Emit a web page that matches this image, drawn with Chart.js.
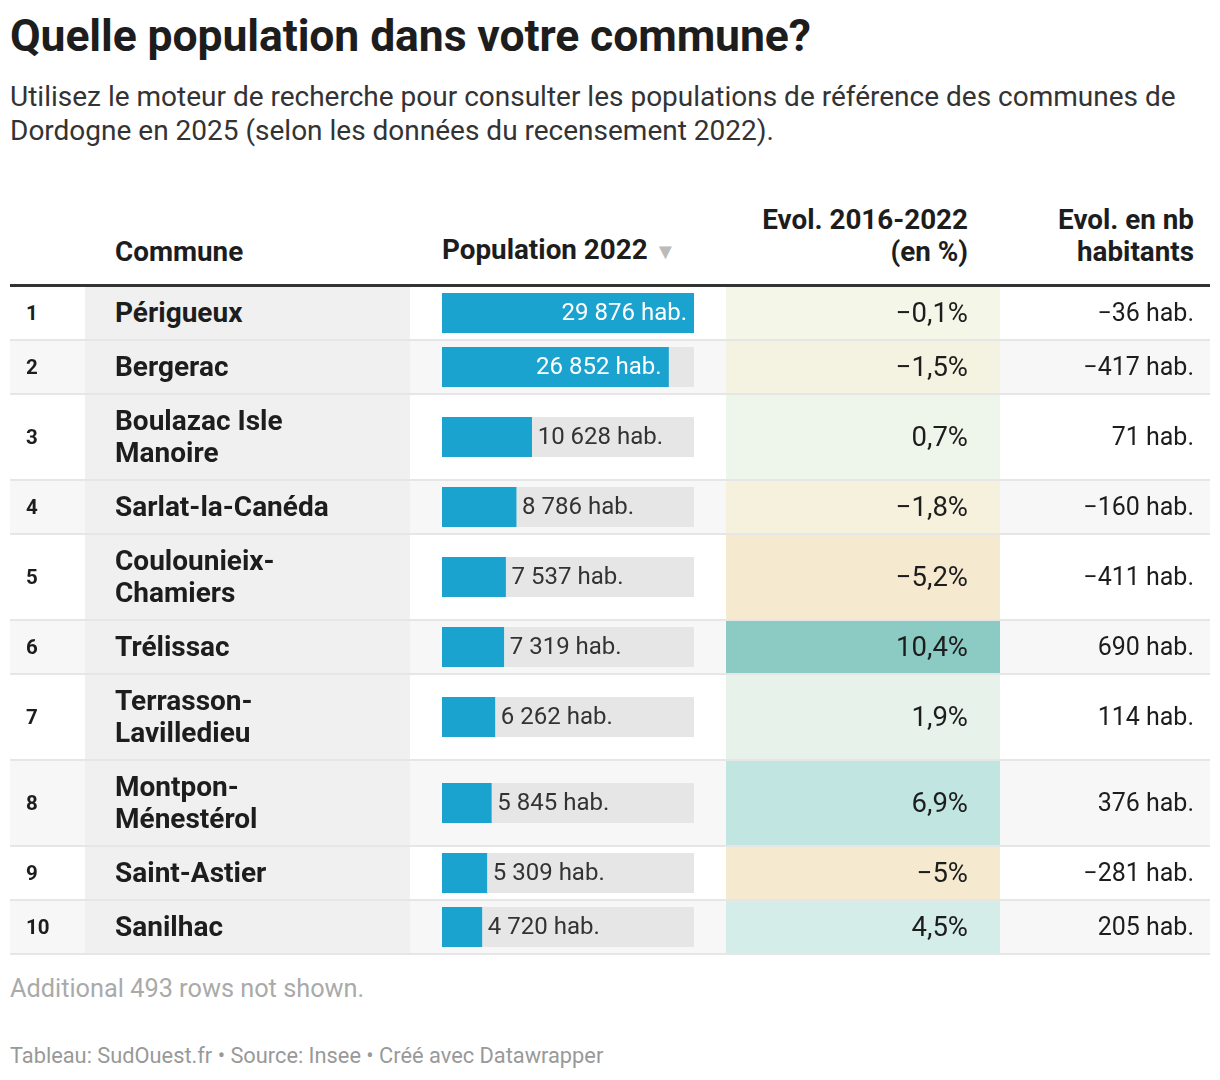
<!DOCTYPE html>
<html><head><meta charset="utf-8">
<script src="https://cdn.jsdelivr.net/npm/chart.js@4"></script>
<style>
body{margin:0;background:#fff;font-family:Roboto,sans-serif;color:#1d1d1d;width:1220px;}
h1{font-size:44.5px;font-weight:700;margin:0;position:absolute;left:10px;top:10px;letter-spacing:-0.1px}
.sub{position:absolute;left:10px;top:80px;font-size:28px;line-height:34px;color:#333;width:1200px}
table{position:absolute;left:10px;top:204px;border-collapse:collapse;width:1200px}
th{font-size:27.8px;font-weight:700;vertical-align:bottom;padding:0 0 16px 0;line-height:32px;border-bottom:3px solid #333}
td{font-size:25px;padding:0;border-bottom:2px solid #e6e6e6}
td.rank{width:75px;font-weight:700;font-size:20.5px;padding-left:16px;box-sizing:border-box}
td.com{width:325px;background:#f0f0f0;font-weight:700;font-size:28px;padding:8px 30px;box-sizing:border-box;line-height:32px}
td.bar{width:316px;padding:0 32px;box-sizing:border-box}
td.pct{width:274px;text-align:right;padding-right:32px;box-sizing:border-box;font-size:27.5px}
td.nb{text-align:right;padding-right:16px;font-size:25px}
tr.alt td{background:#f7f7f7}
tr.alt td.com{background:#f0f0f0}
.foot1{position:absolute;left:10px;top:974px;font-size:25.3px;color:#aaa}
.foot2{position:absolute;left:10px;top:1043px;font-size:21.8px;color:#999}
canvas{display:block}
</style></head><body>
<h1>Quelle population dans votre commune?</h1>
<div class="sub">Utilisez le moteur de recherche pour consulter les populations de référence des communes de Dordogne en 2025 (selon les données du recensement 2022).</div>
<table id="tbl"><thead><tr>
<th></th>
<th style="text-align:left;padding-left:30px">Commune</th>
<th style="text-align:left;padding-left:32px">Population 2022 <span style="color:#bbb;font-size:22px">▼</span></th>
<th style="text-align:right;padding-right:32px">Evol. 2016-2022<br>(en %)</th>
<th style="text-align:right;padding-right:16px">Evol. en nb<br>habitants</th>
</tr></thead><tbody id="body"></tbody></table>
<div class="foot1">Additional 493 rows not shown.</div>
<div class="foot2">Tableau: SudOuest.fr • Source: Insee • Créé avec Datawrapper</div>
<script>
const communes = ['Périgueux','Bergerac','Boulazac Isle<br>Manoire','Sarlat-la-Canéda','Coulounieix-<br>Chamiers','Trélissac','Terrasson-<br>Lavilledieu','Montpon-<br>Ménestérol','Saint-Astier','Sanilhac'];
const population = [29876,26852,10628,8786,7537,7319,6262,5845,5309,4720];
const evolPct = [-0.1,-1.5,0.7,-1.8,-5.2,10.4,1.9,6.9,-5,4.5];
const evolNb = [-36,-417,71,-160,-411,690,114,376,-281,205];
const rowHeights = [54,54,86,54,86,54,86,86,54,54];

const maxPop = Math.max(...population);
const fmt = n => String(Math.abs(n)).replace(/\B(?=(\d{3})+(?!\d))/g,' ');
const sgn = n => (n < 0 ? '\u2212' : '');
function pctColor(v){
  if (v >= 10) return '#8ccbc3';
  if (v >= 6) return '#c1e6e2';
  if (v >= 4) return '#d4ede8';
  if (v >= 1.5) return '#e7f3ea';
  if (v >= 0.5) return '#eef5ea';
  if (v >= -0.5) return '#f4f6e8';
  if (v >= -1.6) return '#f4f3e1';
  if (v >= -2) return '#f5f1dc';
  return '#f5ead0';
}
const labelPlugin = {
  id:'lbl',
  afterDatasetsDraw(chart){
    const ctx = chart.ctx, el = chart.getDatasetMeta(1).data[0];
    const v = chart.data.datasets[1].data[0];
    const txt = fmt(v) + ' hab.';
    ctx.save();
    ctx.font = '24px Roboto';
    ctx.textBaseline = 'middle';
    const w = ctx.measureText(txt).width;
    if (el.x - el.base > w + 14) {
      ctx.fillStyle = '#fff'; ctx.textAlign = 'right';
      ctx.fillText(txt, el.x - 7, el.y + 1);
    } else {
      ctx.fillStyle = '#333'; ctx.textAlign = 'left';
      ctx.fillText(txt, el.x + 6, el.y + 1);
    }
    ctx.restore();
  }
};
const body = document.getElementById('body');
communes.forEach((c,i)=>{
  const tr = document.createElement('tr');
  if (i % 2 === 1) tr.className = 'alt';
  tr.style.height = rowHeights[i] + 'px';
  tr.innerHTML = `<td class="rank">${i+1}</td><td class="com">${c}</td>
  <td class="bar"><canvas id="c${i}" width="252" height="40"></canvas></td>
  <td class="pct" style="background:${pctColor(evolPct[i])}">${sgn(evolPct[i])}${String(Math.abs(evolPct[i])).replace('.',',')}%</td>
  <td class="nb">${sgn(evolNb[i])}${fmt(evolNb[i])} hab.</td>`;
  body.appendChild(tr);
  new Chart(document.getElementById('c'+i), {
    type:'bar',
    data:{labels:[''],datasets:[
      {data:[maxPop],backgroundColor:'#e6e6e6',barPercentage:1,categoryPercentage:1,grouped:false,order:2},
      {data:[population[i]],backgroundColor:'#1ba3cf',barPercentage:1,categoryPercentage:1,grouped:false,order:1}
    ]},
    options:{indexAxis:'y',responsive:false,animation:false,
      layout:{padding:0},
      plugins:{legend:{display:false},tooltip:{enabled:false}},
      scales:{x:{display:false,min:0,max:maxPop},y:{display:false}}},
    plugins:[labelPlugin]
  });
});
</script>
</body></html>
